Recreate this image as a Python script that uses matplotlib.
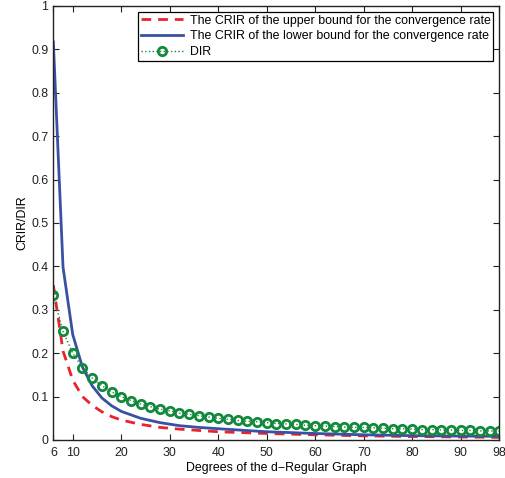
import matplotlib
matplotlib.use("Agg")
import matplotlib.pyplot as plt

plt.rcParams["font.family"] = ["Liberation Sans", "DejaVu Sans"]
plt.rcParams["font.size"] = 8.9

# degrees sampled for the two bound curves
d_bound = [6, 8, 10, 12, 14, 16, 18, 20, 24, 28, 32, 36, 40, 50, 60, 70, 80, 90, 98]
upper_crir = [0.357, 0.205, 0.138, 0.100, 0.080, 0.065, 0.054, 0.046, 0.036, 0.029,
              0.025, 0.022, 0.019, 0.015, 0.012, 0.0095, 0.008, 0.007, 0.006]
lower_crir = [0.917, 0.398, 0.243, 0.168, 0.125, 0.097, 0.079, 0.066, 0.050, 0.040,
              0.033, 0.029, 0.026, 0.019, 0.015, 0.012, 0.010, 0.009, 0.0085]

# DIR at every even degree
d_dir = list(range(6, 99, 2))
dir_vals = [0.333, 0.250, 0.200, 0.167, 0.143, 0.125, 0.111, 0.100, 0.091, 0.083,
            0.077, 0.071, 0.067, 0.062, 0.059, 0.056, 0.053, 0.050, 0.048, 0.045,
            0.043, 0.042, 0.040, 0.038, 0.037, 0.036, 0.034, 0.033, 0.032, 0.031,
            0.030, 0.029, 0.029, 0.028, 0.027, 0.026, 0.026, 0.025, 0.024, 0.024,
            0.023, 0.023, 0.022, 0.022, 0.021, 0.021, 0.020]

x_ticks = [6, 10, 20, 30, 40, 50, 60, 70, 80, 90, 98]
y_ticks = [0, 0.1, 0.2, 0.3, 0.4, 0.5, 0.6, 0.7, 0.8, 0.9, 1]
y_labels = ["0", "0.1", "0.2", "0.3", "0.4", "0.5", "0.6", "0.7", "0.8", "0.9", "1"]

fig = plt.figure(figsize=(5.06, 4.78), dpi=100)
ax = fig.add_axes([0.1054, 0.0795, 0.8817, 0.908])

ax.plot(d_bound, upper_crir, "--", color="#e8232b", lw=2, dashes=(3.5, 2.5),
        label="The CRIR of the upper bound for the convergence rate")
ax.plot(d_bound, lower_crir, "-", color="#3851a3", lw=2,
        label="The CRIR of the lower bound for the convergence rate")
ax.plot(d_dir, dir_vals, ":", color="#12893c", lw=1, marker="o", ms=6,
        mfc="none", mew=2, label="DIR")

ax.set_xlim(6, 98)
ax.set_ylim(0, 1)
ax.set_xticks(x_ticks)
ax.set_yticks(y_ticks, y_labels)
ax.tick_params(direction="in", top=True, right=True, length=4, width=0.8,
               labelsize=8.9, colors="#222222")
ax.tick_params(axis="x", pad=5)
for s in ax.spines.values():
    s.set_linewidth(1)
    s.set_color("#222222")

ax.set_xlabel("Degrees of the d\u2212Regular Graph", fontsize=8.9, labelpad=2)
ax.set_ylabel("CRIR/DIR", fontsize=8.9, labelpad=2)

leg = ax.legend(loc="upper right", fancybox=False, framealpha=1, edgecolor="black",
                handlelength=3.4, borderaxespad=0.5, borderpad=0.2,
                labelspacing=0.3, handletextpad=0.6, fontsize=8.9)
leg.get_frame().set_linewidth(0.9)

fig.savefig("out.png", dpi=100)
